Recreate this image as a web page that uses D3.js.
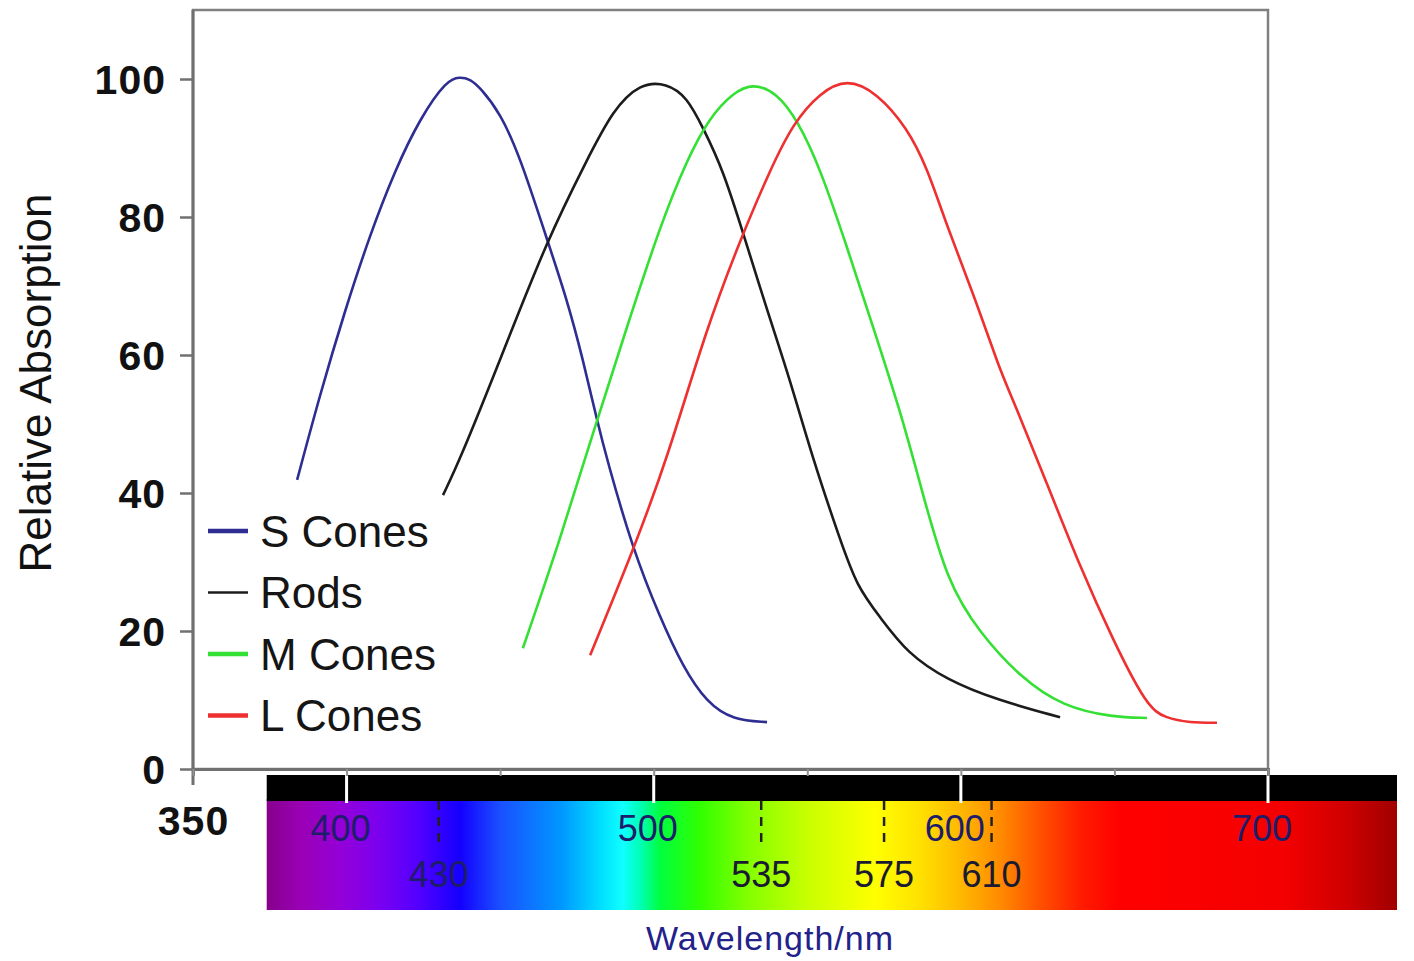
<!DOCTYPE html>
<head>
    <meta charset="utf-8">
    <title>Relative absorption of rods and cones</title>
    <script src="https://d3js.org/d3.v7.min.js"></script>
</head>
<body style="margin:0;background:#fff">
<div id="container"></div>
<script type="text/javascript">
    // curves: [wavelength nm, relative absorption]
    const sCones = [[383.9, 41.9], [391.3, 54.2], [399.5, 66.5], [407.6, 77.4], [415.8, 86.8], [423.9, 94.3],
        [432.7, 99.9], [436.9, 100.3], [440.2, 100], [443.4, 98.8], [450, 95.1], [456.5, 88.7], [465.3, 76.7],
        [471.8, 68], [477, 59.3], [481.5, 50.6], [484.8, 44.8], [493.3, 31.7], [502, 22], [509.5, 14.8],
        [517.3, 9.6], [525.8, 7.1], [536.9, 6.8]];
    const rods = [[431.4, 39.7], [436.9, 44.8], [450, 59.3], [465.3, 76.7], [478.3, 88.3], [486.7, 95.5],
        [495.5, 99.4], [504.3, 99.4], [510.8, 97.4], [516, 93], [522.6, 86.8], [529.1, 77.7], [536.9, 66.5],
        [544.4, 56.4], [551.9, 44.8], [560.7, 33.2], [566.2, 26.4], [573.7, 22], [582.5, 16.8], [595.5, 12.9],
        [611.8, 10], [632.3, 7.5]];
    const mCones = [[457.4, 17.5], [469.5, 33.2], [480.2, 48.7], [491.3, 64.1], [502, 78.6], [510.8, 88.3],
        [518.3, 94.5], [525.8, 98], [532.3, 99.4], [540.1, 98], [546.7, 94.1], [554.1, 87.2], [562.9, 75.7],
        [571.4, 64.1], [580.2, 52], [586.7, 41.4], [595.5, 27], [606.2, 19.7], [619.3, 13.3], [633.3, 9],
        [649.5, 7.5], [660.6, 7.4]];
    const lCones = [[479.3, 16.5], [493.3, 31.7], [504.3, 44.8], [517.3, 64.1], [529.1, 77.7], [537.9, 86.8],
        [545.4, 93.6], [554.1, 98], [562.9, 100.1], [572.7, 98], [582.4, 93], [589, 87.2], [595.5, 78.6],
        [604, 69], [612.7, 57.8], [617, 53.5], [628, 41.4], [638.8, 29.3], [649.5, 18.7], [660.6, 9],
        [666.5, 7.4], [674.6, 6.7], [683.4, 6.7]];

    const seriesNames = ["S Cones", "Rods", "M Cones", "L Cones"];
    const seriesColors = ["#2e2e92", "#1c1c1c", "#35e035", "#ee3030"];
    const seriesData = [sCones, rods, mCones, lCones];

    const yTicks = [0, 20, 40, 60, 80, 100];
    const xTicks = [350, 400, 450, 500, 550, 600, 650, 700];
    const spectrumMajor = [400, 500, 600, 700];
    const spectrumMarks = [430, 535, 575, 610];
    // colour of the spectrum strip by wavelength
    const spectrumNm = [374, 385, 398, 411, 424, 437, 450, 470, 483, 490, 496, 502, 515, 530, 550, 572, 587, 600,
        613, 626, 639, 652, 705, 725, 742];
    const spectrumColor = ["#86008c", "#9a00b4", "#9400d8", "#7a00f0", "#5000ff", "#1400ff", "#1a50ff", "#0098ff",
        "#00e0ff", "#10ffff", "#00ffb0", "#00ff40", "#30ff00", "#80ff00", "#c8ff00", "#ffff00", "#ffe000", "#ffb800",
        "#ff8a00", "#ff5000", "#ff1c00", "#ff0000", "#f40000", "#d00000", "#a00000"];

    const W = 1414, H = 961;
    const plot = {left: 193, right: 1268, top: 10, bottom: 769};

    const svg = d3.select("#container")
        .append("svg")
        .attr("width", W)
        .attr("height", H)
        .style("font-family", "'Liberation Sans', Arial, sans-serif");

    const x = d3.scaleLinear().domain([350, 700]).range([plot.left, plot.right]);
    const y = d3.scaleLinear().domain([0, 110]).range([plot.bottom, plot.top]);

    // spectrum strip under the axis
    const specTop = 775, specBand = 801, specBottom = 910;
    const x0 = x(spectrumNm[0]), x1 = x(spectrumNm[spectrumNm.length - 1]);
    const grad = svg.append("defs").append("linearGradient")
        .attr("id", "spec").attr("x1", "0%").attr("x2", "100%");
    grad.selectAll("stop")
        .data(spectrumNm)
        .join("stop")
        .attr("offset", d => (x(d) - x0) / (x1 - x0))
        .attr("stop-color", (d, i) => spectrumColor[i]);
    svg.append("rect")
        .attr("x", x0).attr("y", specBand - 2)
        .attr("width", x1 - x0).attr("height", specBottom - specBand + 2)
        .attr("fill", "url(#spec)");
    svg.append("rect")
        .attr("x", x0).attr("y", specTop)
        .attr("width", x1 - x0).attr("height", specBand - specTop)
        .attr("fill", "#000");
    svg.selectAll("line.major")
        .data(spectrumMajor)
        .join("line")
        .attr("class", "major")
        .attr("x1", d => x(d)).attr("x2", d => x(d))
        .attr("y1", specTop).attr("y2", specBand + 2)
        .attr("stroke", "#fff").attr("stroke-width", 3);
    svg.selectAll("line.mark")
        .data(spectrumMarks)
        .join("line")
        .attr("class", "mark")
        .attr("x1", d => x(d)).attr("x2", d => x(d))
        .attr("y1", specBand).attr("y2", specBand + 44)
        .attr("stroke", "#222").attr("stroke-width", 2.5)
        .attr("stroke-dasharray", "9,7");
    svg.selectAll("text.major")
        .data(spectrumMajor)
        .join("text")
        .attr("class", "major")
        .attr("x", d => x(d) - 6).attr("y", 841)
        .attr("text-anchor", "middle")
        .style("font-size", "36px")
        .style("fill", "#1d1d6a")
        .text(d => d);
    svg.selectAll("text.mark")
        .data(spectrumMarks)
        .join("text")
        .attr("class", "mark")
        .attr("x", d => x(d)).attr("y", 887)
        .attr("text-anchor", "middle")
        .style("font-size", "36px")
        .style("fill", (d, i) => i === 0 ? "#1d1d6a" : "#1a1a30")
        .text(d => d);
    svg.append("text")
        .attr("x", 770).attr("y", 950)
        .attr("text-anchor", "middle")
        .style("font-size", "34px")
        .style("letter-spacing", "1px")
        .style("fill", "#22228a")
        .text("Wavelength/nm");

    // frame
    svg.append("rect")
        .attr("x", plot.left).attr("y", plot.top)
        .attr("width", plot.right - plot.left).attr("height", plot.bottom - plot.top)
        .attr("fill", "none").attr("stroke", "#808080").attr("stroke-width", 2.5);

    // axes
    const yAxis = svg.append("g")
        .attr("transform", `translate(${plot.left},0)`)
        .call(d3.axisLeft(y).tickValues(yTicks).tickSize(13).tickPadding(14));
    yAxis.select(".domain").attr("stroke", "#707070").attr("stroke-width", 3)
        .attr("d", `M0,${plot.top}V${plot.bottom + 16}`);
    yAxis.selectAll(".tick line").attr("stroke", "#707070").attr("stroke-width", 2.5);
    yAxis.selectAll(".tick text")
        .style("font-size", "41px").style("font-weight", "bold").style("fill", "#111")
        .style("letter-spacing", "1px")
        .attr("dy", "0.36em");

    const xAxis = svg.append("g")
        .attr("transform", `translate(0,${plot.bottom})`)
        .call(d3.axisBottom(x).tickValues(xTicks).tickSize(7).tickPadding(30)
            .tickFormat(d => d === 350 ? d : ""));
    xAxis.select(".domain").attr("stroke", "#707070").attr("stroke-width", 3);
    xAxis.selectAll(".tick line").attr("stroke", "#909090").attr("stroke-width", 2);
    xAxis.selectAll(".tick text")
        .style("font-size", "41px").style("font-weight", "bold").style("fill", "#111")
        .style("letter-spacing", "1px");

    svg.append("text")
        .attr("transform", `translate(51,383) rotate(-90)`)
        .attr("text-anchor", "middle")
        .style("font-size", "44px")
        .style("fill", "#111")
        .text("Relative Absorption");

    // curves
    const line = d3.line()
        .x(d => x(d[0]))
        .y(d => y(d[1]))
        .curve(d3.curveBasis);
    svg.selectAll("path.curve")
        .data(seriesData)
        .join("path")
        .attr("class", "curve")
        .attr("d", line)
        .attr("fill", "none")
        .attr("stroke", (d, i) => seriesColors[i])
        .attr("stroke-width", 2.6);

    // legend
    const legend = svg.append("g").attr("transform", "translate(208,531)");
    const items = legend.selectAll("g")
        .data(seriesNames)
        .join("g")
        .attr("transform", (d, i) => `translate(0,${i * 61.5})`);
    items.append("line")
        .attr("x1", 0).attr("x2", 40)
        .attr("stroke", (d, i) => seriesColors[i])
        .attr("stroke-width", (d, i) => i === 1 ? 2.5 : 4.5);
    items.append("text")
        .attr("x", 52).attr("dy", "0.36em")
        .style("font-size", "44px")
        .style("fill", "#151515")
        .text(d => d);
</script>
</body>
